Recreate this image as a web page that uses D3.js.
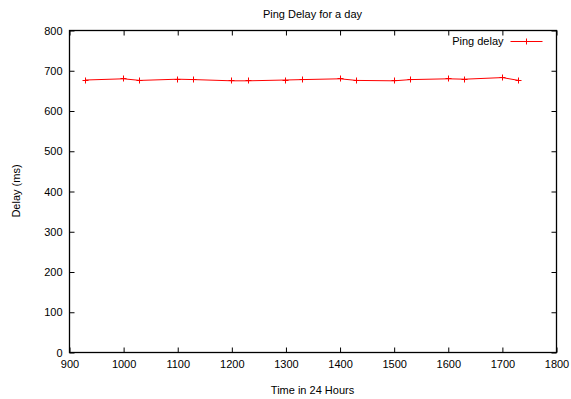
<!DOCTYPE html>
<html lang="en">
<head>
    <meta charset="UTF-8">
    <title>Ping Delay for a day</title>
    <style>
        body {
            margin: 0;
            background: #fff;
            font-family: 'Liberation Sans', Arial, sans-serif;
        }

        .axis text {
            font-size: 11px;
            fill: #000;
        }

        .label {
            font-size: 11px;
            fill: #000;
        }
    </style>
</head>
<body>
    <div id="plot"></div>

    <script src="https://d3js.org/d3.v7.min.js"></script>
    <script>
        // hour of day (hhmm) and measured ping delay
        const times = [930, 1000, 1030, 1100, 1130, 1200, 1230, 1300, 1330, 1400, 1430, 1500, 1530, 1600, 1630, 1700, 1730];
        const delays = [677, 680, 676, 679, 678, 675, 675, 677, 678, 680, 676, 675, 678, 680, 679, 683, 676];
        const xTicks = [900, 1000, 1100, 1200, 1300, 1400, 1500, 1600, 1700, 1800];
        const yTicks = [0, 100, 200, 300, 400, 500, 600, 700, 800];

        const width = 571;
        const height = 399;
        const margin = { top: 30, right: 15, bottom: 47, left: 69 };
        const innerW = width - margin.left - margin.right;
        const innerH = height - margin.top - margin.bottom;
        const tickLen = 5;
        const cross = 3;

        const data = times.map((t, i) => ({ t: t, v: delays[i] }));

        const xScale = d3.scaleLinear()
            .domain([900, 1800])
            .range([0, innerW]);

        const yScale = d3.scaleLinear()
            .domain([0, 800])
            .range([innerH, 0]);

        const svg = d3.select('#plot')
            .append('svg')
            .attr('width', width)
            .attr('height', height);

        const g = svg.append('g')
            .attr('transform', `translate(${margin.left + 0.5}, ${margin.top + 0.5})`);

        // axes - gnuplot style, ticks point inward and are mirrored
        g.append('g')
            .attr('class', 'x axis')
            .attr('transform', `translate(0, ${innerH})`)
            .call(d3.axisBottom(xScale).tickValues(xTicks).tickFormat(d3.format('d'))
                .tickSize(-tickLen).tickPadding(8));

        g.append('g')
            .attr('class', 'y axis')
            .call(d3.axisLeft(yScale).tickValues(yTicks).tickFormat(d3.format('d'))
                .tickSize(-tickLen).tickPadding(7));

        g.append('g')
            .attr('class', 'axis')
            .call(d3.axisTop(xScale).tickValues(xTicks).tickSize(-tickLen).tickFormat(''));

        g.append('g')
            .attr('class', 'axis')
            .attr('transform', `translate(${innerW}, 0)`)
            .call(d3.axisRight(yScale).tickValues(yTicks).tickSize(-tickLen).tickFormat(''));

        g.selectAll('.axis .domain').remove();
        g.selectAll('.axis text').attr('font-family', null).attr('font-size', null);
        g.selectAll('.axis line').attr('stroke', '#000');

        // frame
        g.append('rect')
            .attr('width', innerW)
            .attr('height', innerH)
            .attr('fill', 'none')
            .attr('stroke', '#000')
            .attr('stroke-width', 1.3);

        // series
        const line = d3.line()
            .x(d => xScale(d.t))
            .y(d => yScale(d.v));

        g.append('path')
            .datum(data)
            .attr('fill', 'none')
            .attr('stroke', '#ff0000')
            .attr('stroke-width', 1)
            .attr('d', line);

        const plusPath = (x, y) => `M${x - cross},${y}H${x + cross}M${x},${y - cross}V${y + cross}`;

        g.selectAll('.pt')
            .data(data)
            .enter()
                .append('path')
                .attr('class', 'pt')
                .attr('stroke', '#ff0000')
                .attr('stroke-width', 1)
                .attr('d', d => plusPath(Math.round(xScale(d.t)), Math.round(yScale(d.v))));

        // legend
        const legendY = 11;
        g.append('text')
            .attr('class', 'label')
            .attr('x', 434)
            .attr('y', legendY)
            .attr('dy', '0.35em')
            .attr('text-anchor', 'end')
            .text('Ping delay');

        g.append('line')
            .attr('x1', 441)
            .attr('x2', 473)
            .attr('y1', legendY)
            .attr('y2', legendY)
            .attr('stroke', '#ff0000');

        g.append('path')
            .attr('stroke', '#ff0000')
            .attr('d', plusPath(457, legendY));

        // titles
        svg.append('text')
            .attr('class', 'label')
            .attr('x', margin.left + innerW / 2)
            .attr('y', 18)
            .attr('text-anchor', 'middle')
            .text('Ping Delay for a day');

        svg.append('text')
            .attr('class', 'label')
            .attr('x', margin.left + innerW / 2)
            .attr('y', 394)
            .attr('text-anchor', 'middle')
            .text('Time in 24 Hours');

        svg.append('text')
            .attr('class', 'label')
            .attr('transform', `translate(20, ${margin.top + innerH / 2}) rotate(-90)`)
            .attr('text-anchor', 'middle')
            .text('Delay (ms)');
    </script>
</body>
</html>
